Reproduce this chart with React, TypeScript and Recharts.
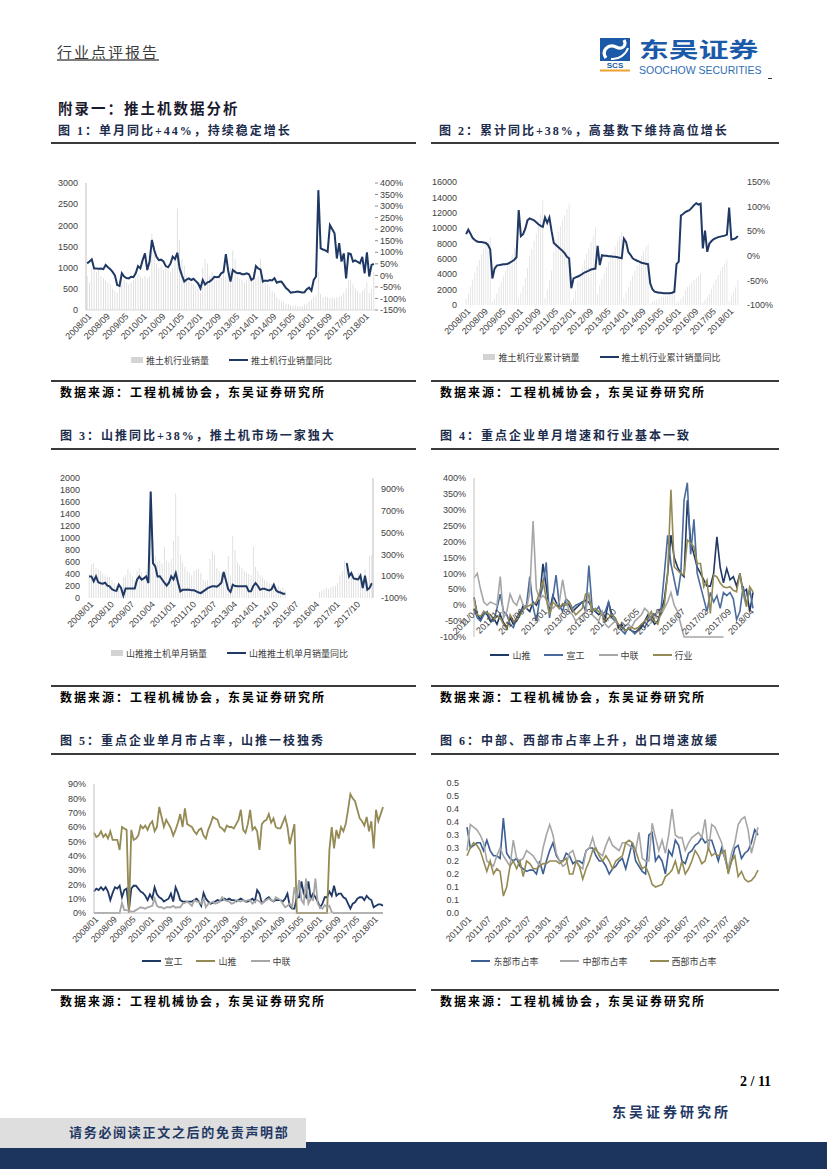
import React from 'react';
import { ComposedChart, LineChart, Bar, Line, XAxis, YAxis, Legend } from 'recharts';

// ---------- categories ----------
function monthLabels(y0: number, m0: number, n: number): string[] {
  const out: string[] = [];
  for (let i = 0; i < n; i++) {
    const k = m0 - 1 + i;
    const yy = y0 + Math.floor(k / 12);
    const mm = (k % 12) + 1;
    out.push(`${yy}/${mm < 10 ? '0' + mm : mm}`);
  }
  return out;
}
const MONTHS_0801 = monthLabels(2008, 1, 125);
const MONTHS_1104 = monthLabels(2011, 4, 86);
const MONTHS_1101 = monthLabels(2011, 1, 89);

// ---------- chart 1: monthly sales & yoy ----------
const SALES1 = [
  800, 650, 1000, 950, 900, 950, 800, 750, 700, 650, 600, 500,
  450, 400, 700, 750, 700, 650, 600, 650, 700, 750, 850, 800,
  750, 800, 750, 800, 1800, 1500, 1100, 1000, 1050, 950, 1000, 950,
  900, 1000, 1300, 2400, 1650, 1200, 1050, 800, 700, 650, 600, 550,
  500, 400, 1000, 1200, 1100, 800, 900, 750, 700, 800, 750, 900,
  800, 900, 1000, 1400, 1200, 800, 750, 700, 650, 700, 750, 800,
  900, 750, 800, 1200, 700, 650, 600, 550, 450, 400, 300, 250,
  200, 180, 150, 150, 120, 100, 100, 90, 80, 100, 130, 150,
  200, 250, 300, 350, 900, 380, 300, 320, 300, 280, 300, 280,
  300, 320, 350, 400, 500, 700, 700, 600, 500, 450, 400, 450,
  500, 650, 400, 500, 900,
];
const YOY1 = [
  52, 60, 69, 30, 30, 29, 30, 27, 45, 35, 27, 15,
  0, -42, -46, 9, -5, -12, -13, -6, -8, 9, 40, 30,
  66, 95, 23, 60, 153, 110, 80, 66, 68, 60, 40, 35,
  50, 81, 70, 98, 30, 0, -27, -18, -13, -20, -15, -25,
  -35, -56, -20, -40, -30, -27, -18, -6, -8, -6, 9, 15,
  92, 20, -27, 23, 15, 9, 10, 5, 5, 9, 5, -20,
  -13, 40, 30, 25, -27, -22, -24, -20, -22, -12, -32, -28,
  -27, -40, -55, -63, -75, -73, -72, -70, -72, -74, -73, -60,
  -53, -66, -20, -5, 369, 117, 112, 108, 102, 218, 200, 182,
  73, 140, 60, 95, -13, 95, 92, 60, 65, 58, 52, 80,
  9, 100, -5, 45, 50,
];
const Y1_LEFT_TICKS = [0, 500, 1000, 1500, 2000, 2500, 3000];
const Y1_RIGHT_TICKS = [-150, -100, -50, 0, 50, 100, 150, 200, 250, 300, 350, 400];

// ---------- chart 2: cumulative sales & yoy ----------
const CUM2 = [
  800, 1500, 2400, 3300, 4200, 5100, 5900, 6600, 7300, 7900, 8400, 8800,
  400, 800, 1500, 2300, 3000, 3700, 4400, 5100, 5800, 6600, 7400, 8500,
  800, 1600, 2500, 3500, 4800, 6300, 7300, 8300, 9300, 10400, 11800, 13600,
  900, 2000, 3300, 4500, 6900, 8500, 9500, 10300, 11000, 11700, 12500, 13200,
  500, 900, 1900, 3100, 4200, 5000, 5900, 6700, 7400, 8200, 9000, 10100,
  1400, 2600, 3400, 4100, 4900, 5600, 6300, 6900, 7600, 8300, 8900, 9500,
  900, 1650, 2350, 3100, 3800, 4500, 5200, 5800, 6400, 7000, 7500, 7900,
  200, 400, 550, 700, 850, 950, 1050, 1150, 1250, 1350, 1500, 1650,
  250, 500, 800, 1150, 2000, 2350, 2650, 2950, 3250, 3550, 3850, 4150,
  300, 650, 1050, 1500, 2050, 2700, 3350, 3950, 4450, 4950, 5400, 5900,
  550, 1200, 1700, 2300, 3200,
];
const YOY2 = [
  44, 53, 45, 36, 32, 29, 28, 28, 27, 26, 22, 13,
  -46, -26, -20, -19, -18, -17, -17, -16, -14, -11, -8, -3,
  93, 40, 44, 55, 72, 76, 74, 72, 68, 64, 61, 59,
  78, 67, 78, 50, 26, 22, 18, 14, 10, 5, -2, -5,
  -66, -46, -44, -42, -40, -37, -34, -32, -30, -28, -27, -26,
  20, -19, 1, 0, 0, -1, -1, -2, -2, -3, -4, -5,
  35, 28, 8, 2, -5, -8, -10, -12, -14, -15, -16, -17,
  -56, -68, -73, -74, -75, -75, -76, -76, -76, -76, -75, -73,
  -17, -12, 82, 85, 89, 91, 93, 98, 103, 107, 104, 106,
  15, 51, 8, 25, 30, 34, 36, 38, 39, 40, 41, 43,
  98, 33, 34, 36, 40,
];
const Y2_LEFT_TICKS = [0, 2000, 4000, 6000, 8000, 10000, 12000, 14000, 16000];
const Y2_RIGHT_TICKS = [-100, -50, 0, 50, 100, 150];

// ---------- chart 3: Shantui monthly sales & yoy ----------
const N = null;
const SALES3 = [
  400, 560, 580, 500, 480, 450, 400, 380, 350, 350, 300, 250,
  200, 180, 150, 350, 380, 480, 420, 350, 300, 450, 500, 430,
  350, 450, 380, 1750, 950, 700, 600, 620, 580, 850, 620, 600,
  650, 950, 1750, 1030, 720, 600, 520, 450, 420, 380, 450, 480,
  480, 420, 300, 280, 300, 650, 780, 720, 500, 450, 420, 450,
  480, 700, 380, 1030, 800, 600, 550, 500, 450, 420, 400, 380,
  860, 520, 450, 380, 350, 300, 280, 250, 230, 200, 180, 200,
  150, 180, 120,
  N, N, N, N, N, N, N, N, N, N, N, N, N, N,
  100, 120, 150, 180, 150, 180, 190, 200,
  250, 380, 450, 620,
  600, 450, 400, 380, 350, 420, 380, 300, 470, 280, 700, 720,
];
const YOY3 = [
  98, 98, 53, 98, 44, 35, 31, 40, 13, 7, -20, -30,
  -35, 22, -8, -79, -14, -14, -14, -14, -14, 68, 98, 68,
  80, 98, 37, 877, 220, 190, 98, 100, 70, 40, 13, 40,
  98, 70, 129, 40, -39, -25, -25, -25, -25, -30, -30, -39,
  -50, -55, -39, -25, -10, 0, 7, 7, 3, 20, 40, 138,
  60, -20, -45, 22, 10, 7, 7, 7, 7, 7, -39, -39,
  10, 37, 10, -25, -15, -15, -25, -30, -20, 22, -30, -45,
  -50, -60, -60,
  N, N, N, N, N, N, N, N, N, N, N, N, N,
  N, N, N, N, N, N, N, N, N, N, N, N, N,
  220, 98, 129, 80, 75, 70, 105, -8, 105, -24, -8, 37,
];
const Y3_LEFT_TICKS = [0, 200, 400, 600, 800, 1000, 1200, 1400, 1600, 1800, 2000];
const Y3_RIGHT_TICKS = [-100, 100, 300, 500, 700, 900];

// ---------- chart 4: key companies monthly yoy ----------
const ST4 = [
  25, -30, -45, -20, -30, -50, -40, -60, -30, -55, -70, -40,
  -60, -50, -30, 0, -10, -20, 10, 0, 20, 130, 60, -20,
  30, 10, -10, 0, 10, 0, -20, -10, 0, 10, 15, 10,
  -10, -20, -30, -20, -40, 10, -30, -40, -70, -60, -80, -75,
  -80, -85, -80, -70, -50, -30, -40, -60, -50, -20, 20, 100,
  220, 150, 120, 100, 90, 330, 200, 160, 120, 100, 80, 60,
  60, 100, 215, 120, 70, 115, 80, 90, 60, 100, 40, 50, -20, 40,
];
const XG4 = [
  -10, -40, -50, -30, -20, -45, -50, -10, 35, -20, -30, -60,
  -70, -40, -20, -10, 0, 90, -5, -50, 20, 60, 135, -40,
  20, 95, 0, -20, 20, 10, -10, 0, 5, 10, -20, 125,
  -10, -20, -5, -30, -20, 10, -40, -50, -60, -80, -90, -70,
  -80, -90, -80, -60, -70, -50, -40, -30, -20, -10, 100, 220,
  130, 80, 30, 100, 330, 385, 160, 270, 100, 60, 20, -20,
  40, 10, 30, -10, 40, 30, 40, 20, -45, -20, 60, 0, 50, -10,
];
const ZL4 = [
  85, 100, 50, 10, 0, 10, 5, 0, 90, -40, -20, 35,
  10, 0, 30, 0, -10, 40, 265, 50, 20, 30, 20, 0,
  -10, 0, 10, 80, 20, -20, -30, -50, -40, -30, -20, 40,
  -30, -40, -50, -20, -60, -70, -60, -50, -60, -70, -65, -60,
  -70, -50, -40, -30, -10, -20, -50, -40, -20, -30, -10, 10,
  40, 0, -20, -60, -100, -100, -100, -100, -100, -100, -100, -100,
  -100, -100, -100, -100, -100, N, N, N, N, N, N, N, N, N,
];
const HY4 = [
  20, -30, -35, -20, -25, -30, -45, -35, -40, -60, -75, -30,
  -50, -45, -30, -15, -5, 0, 5, 10, 40, 80, 20, -30,
  10, 0, -10, 5, 0, 10, -15, -30, -20, -10, 35, 30,
  -20, -10, -20, -30, -50, -40, -30, -40, -60, -70, -80, -75,
  -70, -75, -70, -60, -50, -40, -20, -50, -60, -20, 0, 100,
  363, 121, 110, 100, 95, 205, 195, 184, 131, 131, 58, 79,
  -26, 95, 89, 70, 58, 55, 58, 47, 42, 100, 37, -5, 58, 42,
];
const Y4_TICKS = [-100, -50, 0, 50, 100, 150, 200, 250, 300, 350, 400];

// ---------- chart 5: market share ----------
const XG5 = [
  15, 17, 16, 18, 16, 18, 15, 9, 14, 18, 17, 19,
  11, 16, 17, 2, 17, 19, 19, 17, 15, 14, 12, 9,
  13, 10, 18, 13, 11, 10, 8, 9, 10, 13.5, 8, 18,
  14, 9, 8, 8, 8, 8, 8, 9, 10, 8, 5, 14,
  10, 8, 6.5, 7, 8, 9, 8.5, 9, 10, 9, 10, 9,
  9, 8, 9, 10, 9, 8, 8, 9, 10, 8, 16, 13.5,
  7, 8, 10, 11, 9, 8, 9, 9, 9, 8, 10, 13.5,
  5, 3, 3, 11, 11, 22, 13.5, 11, 22, 10, 13.5, 11,
  8, 4, 6.5, 11, 11, 15, 12, 19, 12, 13.5, 13.5, 11,
  10, 6.5, 3, 6.5, 7.5, 10, 11, 11, 9, 12, 10, 9,
  4, 5, 6, 6, 5,
];
const ST5 = [
  56, 53, 54, 57, 53, 55, 52, 57, 51, 51, 51, 44,
  60, 59, 58, 0, 58, 51, 52, 54, 61, 59, 61, 58,
  62, 64, 57, 60, 74, 67, 60, 65, 62, 59, 54, 58,
  63, 69, 60, 73, 62, 61, 60, 57, 55, 58, 59, 54,
  52, 58, 62, 67, 66, 65, 60, 59, 57, 61, 60, 60,
  59, 62, 65, 72, 58, 56, 62, 72, 58, 60, 57, 44,
  62, 64, 65, 69, 63, 66, 60, 59, 59, 63, 67, 60,
  48, 55, 62, 0, 0, 0, 0, 0, 0, 0, 0, 0,
  0, 0, 0, 0, 0, 44, 60, 45, 58, 52, 60, 57,
  62, 72, 83, 80, 78, 72, 66, 64, 61, 67, 57, 64,
  45, 72, 64, 69, 74,
];
const ZL5 = [
  0, 0, 0, 0, 0, 0, 0, 0, 0, 0, 0, 0,
  7, 2, 2, 1.4, 1, 1, 2, 3, 4, 3.5, 3, 4,
  4.5, 5, 10, 5, 4, 4, 3, 4, 4, 4, 5, 3.7,
  4, 4, 6.5, 7, 8, 6.5, 5, 9, 8, 8, 6.5, 10,
  4, 6.5, 7, 8, 6.5, 7, 8, 11, 9, 8.5, 8, 6.5,
  7, 9, 8.5, 8, 9, 8, 9, 9, 6.5, 8, 9, 8,
  6.5, 8, 9, 10, 9, 8, 11, 10, 9, 6.5, 4, 5,
  6.5, 4, 18, 10, 23, 9, 6.5, 24, 6.5, 10, 9, 24,
  6.5, 4, 3, 5.5, 4, 5, 0.7, 0, 0, 0, 0, 0,
  0, 0, 0, 0, 0, 0, 0, 0, 0, 0, 0, 0,
  0, 0, 0, 0, 0,
];
const Y5_TICKS = [0, 10, 20, 30, 40, 50, 60, 70, 80, 90];

// ---------- chart 6: regional share ----------
const DB6 = [
  0.33, 0.25, 0.26, 0.27, 0.27, 0.24, 0.28, 0.24, 0.22, 0.22, 0.21, 0.365,
  0.23, 0.21, 0.2, 0.21, 0.18, 0.17, 0.16, 0.165, 0.165, 0.15, 0.2, 0.15,
  0.2, 0.24, 0.27, 0.22, 0.2, 0.2, 0.23, 0.22, 0.19, 0.2, 0.2, 0.19,
  0.24, 0.25, 0.25, 0.22, 0.2, 0.2, 0.18, 0.15, 0.17, 0.18, 0.2, 0.21,
  0.17, 0.22, 0.27, 0.2, 0.18, 0.16, 0.15, 0.3, 0.31, 0.2, 0.22, 0.2,
  0.15, 0.24, 0.22, 0.28, 0.26, 0.2, 0.19, 0.23, 0.24, 0.26, 0.27, 0.29,
  0.27, 0.28, 0.28, 0.24, 0.2, 0.25, 0.21, 0.16, 0.2, 0.25, 0.26, 0.21,
  0.23, 0.24, 0.27, 0.32, 0.3,
];
const ZB6 = [
  0.24, 0.34, 0.33, 0.32, 0.3, 0.27, 0.2, 0.19, 0.18, 0.22, 0.25, 0.22,
  0.2, 0.18, 0.28, 0.21, 0.2, 0.21, 0.24, 0.23, 0.22, 0.2, 0.18, 0.25,
  0.3, 0.34, 0.3, 0.23, 0.2, 0.18, 0.19, 0.23, 0.24, 0.2, 0.18, 0.17,
  0.24, 0.25, 0.29, 0.24, 0.23, 0.22, 0.26, 0.29, 0.26, 0.25, 0.24, 0.27,
  0.27, 0.26, 0.25, 0.24, 0.31, 0.21, 0.2, 0.2, 0.345, 0.29, 0.24, 0.28,
  0.23, 0.3, 0.4, 0.3, 0.29, 0.29, 0.24, 0.27, 0.29, 0.3, 0.31, 0.29,
  0.36, 0.24, 0.34, 0.33, 0.3, 0.27, 0.21, 0.17, 0.23, 0.27, 0.34, 0.36,
  0.37, 0.32, 0.23, 0.28, 0.33,
];
const XB6 = [
  0.22, 0.25, 0.27, 0.26, 0.24, 0.2, 0.16, 0.2, 0.15, 0.17, 0.16, 0.065,
  0.1, 0.18, 0.2, 0.17, 0.2, 0.14, 0.2, 0.19, 0.17, 0.17, 0.18, 0.19,
  0.19, 0.2, 0.2, 0.2, 0.19, 0.2, 0.21, 0.15, 0.15, 0.2, 0.18, 0.13,
  0.17, 0.2, 0.24, 0.25, 0.22, 0.2, 0.22, 0.2, 0.17, 0.2, 0.21, 0.22,
  0.27, 0.28, 0.27, 0.24, 0.2, 0.17, 0.18, 0.15, 0.11, 0.1, 0.105, 0.11,
  0.14, 0.15, 0.165, 0.2, 0.15, 0.2, 0.15, 0.17, 0.2, 0.24, 0.22, 0.19,
  0.2, 0.25, 0.22, 0.23, 0.22, 0.23, 0.24, 0.15, 0.2, 0.22, 0.14, 0.16,
  0.13, 0.12, 0.125, 0.14, 0.165,
];
const Y6_TICKS = [0, 0.05, 0.1, 0.15, 0.2, 0.25, 0.3, 0.35, 0.4, 0.45, 0.5];
const Y6_LABELS = ['0.0', '0.1', '0.1', '0.2', '0.2', '0.3', '0.3', '0.4', '0.4', '0.5', '0.5'];

// ---------- tables ----------
const D1 = MONTHS_0801.map((m, i) => ({ m, v: SALES1[i], y: YOY1[i] }));
const D2 = MONTHS_0801.map((m, i) => ({ m, v: CUM2[i], y: YOY2[i] }));
const D3 = MONTHS_0801.map((m, i) => ({ m, v: SALES3[i], y: YOY3[i] }));
const D4 = MONTHS_1104.map((m, i) => ({ m, st: ST4[i], xg: XG4[i], zl: ZL4[i], hy: HY4[i] }));
const D5 = MONTHS_0801.map((m, i) => ({ m, xg: XG5[i], st: ST5[i], zl: ZL5[i] }));
const D6 = MONTHS_1101.map((m, i) => ({ m, db: DB6[i], zb: ZB6[i], xb: XB6[i] }));

// ---------- style ----------
const NAVY = '#1f3864';
const BLUE = '#4a6b9c';
const GRAY = '#a6a6a6';
const OLIVE = '#948a54';
const BARGRAY = '#d3d3d3';
const FNUM = '"Liberation Sans", Arial, sans-serif';
const FCJK = '"Noto Sans CJK SC", sans-serif';
const FTITLE = '"Liberation Serif", "Noto Sans CJK SC", serif';
const TICK = { fontSize: 9, fill: '#404040', fontFamily: FNUM };
const pct = (v: number) => `${v}%`;

function rotTick(shift: number) {
  return (props: any) => {
    const { x, y, payload } = props;
    return (
      <g transform={`translate(${x},${y - shift})`}>
        <text x={0} y={0} dy={7} textAnchor="end" transform="rotate(-45)" fontSize={9} fill="#404040" fontFamily={FNUM}>
          {payload.value}
        </text>
      </g>
    );
  };
}

type LItem = { label: string; color: string; kind: 'bar' | 'line' };
function legendContent(items: LItem[], gap = 20) {
  return () => (
    <div style={{ display: 'flex', justifyContent: 'center', alignItems: 'center', height: 16, fontFamily: FCJK, fontSize: 9, color: '#404040', gap }}>
      {items.map((it) => (
        <div key={it.label} style={{ display: 'flex', alignItems: 'center' }}>
          {it.kind === 'bar' ? (
            <span style={{ display: 'inline-block', width: 12, height: 6, background: it.color }} />
          ) : (
            <span style={{ display: 'inline-block', width: 19, height: 2, background: it.color }} />
          )}
          <span style={{ marginLeft: 3, whiteSpace: 'nowrap' }}>{it.label}</span>
        </div>
      ))}
    </div>
  );
}

function Abs({ x, y, w, h, children }: any) {
  return <div style={{ position: 'absolute', left: x, top: y, width: w, height: h }}>{children}</div>;
}

function Txt({ x, cy, size, children, color = '#000', bold = false, ls = 0, family = FTITLE }: any) {
  return (
    <div style={{ position: 'absolute', left: x, top: cy - size * 0.6, fontSize: size, lineHeight: `${size * 1.2}px`, color, fontWeight: bold ? 700 : 400, letterSpacing: ls, fontFamily: family, whiteSpace: 'nowrap' }}>
      {children}
    </div>
  );
}

function HLine({ x, y, w, h = 2, color = '#3a3a3a' }: any) {
  return <div style={{ position: 'absolute', left: x, top: y, width: w, height: h, background: color }} />;
}

const TITLE_C = '#1c2c4c';

// ---------- charts ----------
function Chart1() {
  return (
    <ComposedChart width={375} height={198} data={D1} margin={{ top: 13, right: 0, bottom: 0, left: 0 }} barCategoryGap="35%">
      <XAxis dataKey="m" interval={7} tick={rotTick(0)} tickLine={false} tickSize={0} tickMargin={2} axisLine={{ stroke: '#d9d9d9' }} height={42} />
      <YAxis yAxisId="l" domain={[0, 3000]} ticks={Y1_LEFT_TICKS} interval={0} width={42} tick={TICK} tickLine={false} axisLine={{ stroke: '#bfbfbf' }} />
      <YAxis yAxisId="r" orientation="right" domain={[-150, 400]} ticks={Y1_RIGHT_TICKS} interval={0} width={44} tick={TICK} tickFormatter={pct} tickLine={{ stroke: '#8c8c8c' }} tickSize={3} axisLine={false} />
      <Legend verticalAlign="bottom" content={legendContent([
        { label: '推土机行业销量', color: BARGRAY, kind: 'bar' },
        { label: '推土机行业销量同比', color: NAVY, kind: 'line' },
      ])} />
      <Bar yAxisId="l" dataKey="v" name="推土机行业销量" fill={BARGRAY} isAnimationActive={false} />
      <Line yAxisId="r" dataKey="y" name="推土机行业销量同比" stroke={NAVY} strokeWidth={2} dot={false} isAnimationActive={false} />
    </ComposedChart>
  );
}

function Chart2() {
  return (
    <ComposedChart width={364} height={195} data={D2} margin={{ top: 12, right: 0, bottom: 0, left: 0 }} barCategoryGap="35%">
      <XAxis dataKey="m" interval={7} tick={rotTick(0)} tickLine={false} tickSize={0} tickMargin={2} axisLine={false} height={44} />
      <YAxis yAxisId="l" domain={[0, 16000]} ticks={Y2_LEFT_TICKS} interval={0} width={45} tick={TICK} tickLine={false} axisLine={false} />
      <YAxis yAxisId="r" orientation="right" domain={[-100, 150]} ticks={Y2_RIGHT_TICKS} interval={0} width={45} tick={TICK} tickFormatter={pct} tickLine={false} axisLine={false} />
      <Legend verticalAlign="bottom" content={legendContent([
        { label: '推土机行业累计销量', color: BARGRAY, kind: 'bar' },
        { label: '推土机行业累计销量同比', color: NAVY, kind: 'line' },
      ])} />
      <Bar yAxisId="l" dataKey="v" name="推土机行业累计销量" fill="#d9d9d9" isAnimationActive={false} />
      <Line yAxisId="r" dataKey="y" name="推土机行业累计销量同比" stroke={NAVY} strokeWidth={2} dot={false} isAnimationActive={false} />
    </ComposedChart>
  );
}

function Chart3() {
  return (
    <ComposedChart width={371} height={195} data={D3} margin={{ top: 12, right: 0, bottom: 0, left: 0 }} barCategoryGap="35%">
      <XAxis dataKey="m" interval={8} tick={rotTick(0)} tickLine={false} tickSize={0} tickMargin={2} axisLine={false} height={47} />
      <YAxis yAxisId="l" domain={[0, 2000]} ticks={Y3_LEFT_TICKS} interval={0} width={44} tick={TICK} tickLine={false} axisLine={false} />
      <YAxis yAxisId="r" orientation="right" domain={[-100, 1000]} ticks={Y3_RIGHT_TICKS} interval={0} width={42} tick={TICK} tickFormatter={pct} tickLine={false} axisLine={{ stroke: '#bfbfbf' }} />
      <Legend verticalAlign="bottom" content={legendContent([
        { label: '山推推土机单月销量', color: BARGRAY, kind: 'bar' },
        { label: '山推推土机单月销量同比', color: NAVY, kind: 'line' },
      ])} />
      <Bar yAxisId="l" dataKey="v" name="山推推土机单月销量" fill={BARGRAY} isAnimationActive={false} />
      <Line yAxisId="r" dataKey="y" name="山推推土机单月销量同比" stroke={NAVY} strokeWidth={2} dot={false} isAnimationActive={false} />
    </ComposedChart>
  );
}

const PLOT4_H = 159;
function Chart4() {
  return (
    <LineChart width={333} height={197} data={D4} margin={{ top: 12, right: 10, bottom: 0, left: 0 }}>
      <XAxis dataKey="m" interval={6} tick={rotTick(PLOT4_H * 0.2)} tickLine={false} tickSize={0} tickMargin={2} axisLine={false} height={10} />
      <YAxis domain={[-100, 400]} ticks={Y4_TICKS} interval={0} width={44} tick={TICK} tickFormatter={pct} tickLine={false} axisLine={{ stroke: '#bfbfbf' }} />
      <Legend verticalAlign="bottom" content={legendContent([
        { label: '山推', color: NAVY, kind: 'line' },
        { label: '宣工', color: BLUE, kind: 'line' },
        { label: '中联', color: GRAY, kind: 'line' },
        { label: '行业', color: OLIVE, kind: 'line' },
      ], 14)} />
      <Line dataKey="st" name="山推" stroke={NAVY} strokeWidth={1.6} dot={false} isAnimationActive={false} />
      <Line dataKey="xg" name="宣工" stroke={BLUE} strokeWidth={1.6} dot={false} isAnimationActive={false} />
      <Line dataKey="zl" name="中联" stroke={GRAY} strokeWidth={1.6} dot={false} isAnimationActive={false} />
      <Line dataKey="hy" name="行业" stroke={OLIVE} strokeWidth={1.6} dot={false} isAnimationActive={false} />
    </LineChart>
  );
}

function Chart5() {
  return (
    <LineChart width={343} height={197} data={D5} margin={{ top: 12, right: 10, bottom: 0, left: 0 }}>
      <XAxis dataKey="m" interval={7} tick={rotTick(0)} tickLine={false} tickSize={0} tickMargin={2} axisLine={{ stroke: '#bfbfbf' }} height={40} />
      <YAxis domain={[0, 90]} ticks={Y5_TICKS} interval={0} width={44} tick={TICK} tickFormatter={pct} tickLine={false} axisLine={{ stroke: '#bfbfbf' }} />
      <Legend verticalAlign="bottom" content={legendContent([
        { label: '宣工', color: NAVY, kind: 'line' },
        { label: '山推', color: OLIVE, kind: 'line' },
        { label: '中联', color: GRAY, kind: 'line' },
      ], 14)} />
      <Line dataKey="xg" name="宣工" stroke={NAVY} strokeWidth={1.8} dot={false} isAnimationActive={false} />
      <Line dataKey="st" name="山推" stroke={OLIVE} strokeWidth={1.8} dot={false} isAnimationActive={false} />
      <Line dataKey="zl" name="中联" stroke={GRAY} strokeWidth={1.8} dot={false} isAnimationActive={false} />
    </LineChart>
  );
}

function Chart6() {
  return (
    <LineChart width={338} height={198} data={D6} margin={{ top: 12, right: 10, bottom: 0, left: 0 }}>
      <XAxis dataKey="m" interval={5} tick={rotTick(0)} tickLine={false} tickSize={0} tickMargin={2} axisLine={false} height={40} />
      <YAxis domain={[0, 0.5]} ticks={Y6_TICKS} interval={0} width={37} tick={TICK} tickFormatter={(v: number, i: number) => Y6_LABELS[i]} tickLine={false} axisLine={false} />
      <Legend verticalAlign="bottom" content={legendContent([
        { label: '东部市占率', color: '#3b5e93', kind: 'line' },
        { label: '中部市占率', color: GRAY, kind: 'line' },
        { label: '西部市占率', color: OLIVE, kind: 'line' },
      ], 22)} />
      <Line dataKey="db" name="东部市占率" stroke="#3b5e93" strokeWidth={1.6} dot={false} isAnimationActive={false} />
      <Line dataKey="zb" name="中部市占率" stroke={GRAY} strokeWidth={1.6} dot={false} isAnimationActive={false} />
      <Line dataKey="xb" name="西部市占率" stroke={OLIVE} strokeWidth={1.6} dot={false} isAnimationActive={false} />
    </LineChart>
  );
}

function Logo() {
  return (
    <>
      <svg style={{ position: 'absolute', left: 600, top: 38 }} width={32} height={34}>
        <rect x={0} y={0} width={30} height={23} fill="#1a5aa8" />
        <path d="M6 20 C 1 13, 8 5, 16 9 C 22 12, 27 8, 24 2" stroke="#fff" strokeWidth={3.2} fill="none" />
        <path d="M11 21 C 19 22, 26 16, 28 10" stroke="#fff" strokeWidth={2} fill="none" />
        <text x={15} y={30} textAnchor="middle" fontSize={8} fontWeight={700} fill="#1a5aa8" fontFamily={FNUM}>SCS</text>
        <rect x={0} y={31.5} width={30} height={2} fill="#f0a030" />
      </svg>
      <div style={{ position: 'absolute', left: 639, top: 37, height: 22, fontSize: 21, lineHeight: '22px', fontWeight: 700, color: '#1a5aa8', fontFamily: FCJK, transform: 'scaleX(1.42)', transformOrigin: 'left center', whiteSpace: 'nowrap' }}>
        东吴证券
      </div>
      <div style={{ position: 'absolute', left: 639, top: 64, fontSize: 10.5, lineHeight: '12px', color: '#2f6db5', fontFamily: FNUM, whiteSpace: 'nowrap' }}>
        SOOCHOW SECURITIES
      </div>
      <HLine x={768} y={78} w={4} h={1} color="#333" />
    </>
  );
}

export default function App() {
  return (
    <div style={{ position: 'absolute', left: 0, top: 0, width: 827, height: 1169, background: '#fff', overflow: 'hidden' }}>
      {/* header */}
      <Txt x={57} cy={52} size={15} ls={2} color="#3a3a3a" family={FCJK}>行业点评报告</Txt>
      <HLine x={57} y={59} w={102} h={2} color="#7f7f7f" />
      <Logo />

      <Txt x={58} cy={110} size={14.5} ls={2} bold color="#1a1a2e">附录一：推土机数据分析</Txt>

      {/* row 1 */}
      <Txt x={58} cy={131} size={12} ls={2} bold color={TITLE_C}>图 1：单月同比+44%，持续稳定增长</Txt>
      <Txt x={439} cy={131} size={12} ls={2} bold color={TITLE_C}>图 2：累计同比+38%，高基数下维持高位增长</Txt>
      <HLine x={51} y={142} w={365} />
      <HLine x={431} y={142} w={348} />
      <Abs x={44} y={170} w={375} h={198}><Chart1 /></Abs>
      <Abs x={420} y={170} w={364} h={195}><Chart2 /></Abs>
      <HLine x={51} y={380} w={365} />
      <HLine x={431} y={380} w={348} />
      <Txt x={60} cy={393} size={12} ls={2} bold>数据来源：工程机械协会，东吴证券研究所</Txt>
      <Txt x={440} cy={393} size={12} ls={2} bold>数据来源：工程机械协会，东吴证券研究所</Txt>

      {/* row 2 */}
      <Txt x={60} cy={436} size={12} ls={2} bold color={TITLE_C}>图 3：山推同比+38%，推土机市场一家独大</Txt>
      <Txt x={440} cy={436} size={12} ls={2} bold color={TITLE_C}>图 4：重点企业单月增速和行业基本一致</Txt>
      <HLine x={51} y={448} w={365} />
      <HLine x={431} y={448} w={348} />
      <Abs x={44} y={466} w={371} h={195}><Chart3 /></Abs>
      <Abs x={430} y={466} w={333} h={197}><Chart4 /></Abs>
      <HLine x={51} y={685} w={365} />
      <HLine x={431} y={685} w={348} />
      <Txt x={60} cy={698} size={12} ls={2} bold>数据来源：工程机械协会，东吴证券研究所</Txt>
      <Txt x={440} cy={698} size={12} ls={2} bold>数据来源：工程机械协会，东吴证券研究所</Txt>

      {/* row 3 */}
      <Txt x={60} cy={741} size={12} ls={2} bold color={TITLE_C}>图 5：重点企业单月市占率，山推一枝独秀</Txt>
      <Txt x={440} cy={741} size={12} ls={2} bold color={TITLE_C}>图 6：中部、西部市占率上升，出口增速放缓</Txt>
      <HLine x={51} y={753} w={365} />
      <HLine x={431} y={753} w={348} />
      <Abs x={50} y={772} w={343} h={197}><Chart5 /></Abs>
      <Abs x={430} y={771} w={338} h={198}><Chart6 /></Abs>
      <HLine x={51} y={989} w={365} />
      <HLine x={431} y={989} w={348} />
      <Txt x={60} cy={1002} size={12} ls={2} bold>数据来源：工程机械协会，东吴证券研究所</Txt>
      <Txt x={440} cy={1002} size={12} ls={2} bold>数据来源：工程机械协会，东吴证券研究所</Txt>

      {/* footer */}
      <Txt x={740} cy={1082} size={14} bold>2 / 11</Txt>
      <Txt x={612} cy={1113} size={14} ls={3} bold color={NAVY}>东吴证券研究所</Txt>
      <div style={{ position: 'absolute', left: 0, top: 1142, width: 827, height: 27, background: '#1b355e' }} />
      <div style={{ position: 'absolute', left: 0, top: 1118, width: 306, height: 30, background: '#dedede' }} />
      <Txt x={69} cy={1133} size={13} ls={1.7} bold color={NAVY}>请务必阅读正文之后的免责声明部</Txt>
    </div>
  );
}
